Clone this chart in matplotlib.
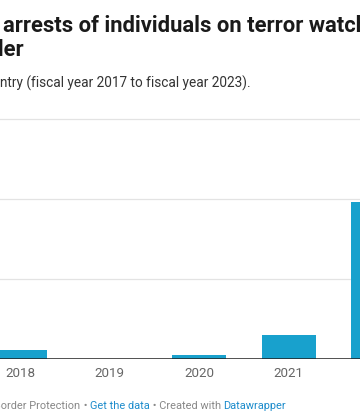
import matplotlib
matplotlib.use("Agg")
import matplotlib.pyplot as plt

# Data
years = ["2017", "2018", "2019", "2020", "2021", "2022", "2023"]
arrests = [2, 6, 0, 3, 15, 98, 169]
grid_values = [50, 100, 150]

W, H = 360, 419
DPI = 100
BAR = "#18a1cd"

plt.rcParams["font.family"] = ["Roboto", "DejaVu Sans"]

fig = plt.figure(figsize=(W / DPI, H / DPI), dpi=DPI)
fig.patch.set_facecolor("white")

def fx(x):
    return x / W

def fy(y):
    return 1 - y / H

# Axes placement (pixel geometry of the visible crop)
base_px = 359.3
px_per_unit = 1.6
ymax = 160
ax_h = ymax * px_per_unit
ax = fig.add_axes([0, (H - base_px) / H, 1, ax_h / H])

step = 89.5
center_2018 = 20.2
x0 = 1 - center_2018 / step
x1 = x0 + W / step
xs = list(range(len(years)))
ax.bar(xs, arrests, width=0.6, color=BAR, zorder=3)

for v in grid_values:
    ax.axhline(v, color="#e3e3e3", lw=0.9, zorder=1)
ax.axhline(0, color="#222222", lw=1.1, zorder=4)

for s in ax.spines.values():
    s.set_visible(False)
ax.set_yticks([])
ax.set_xticks(xs)
ax.set_xticklabels(years)
ax.tick_params(axis="x", length=0, pad=5.5, labelsize=9.6, labelcolor="#666666")
ax.set_facecolor("none")
ax.set_xlim(x0, x1)
ax.set_ylim(0, ymax)

# Title (cropped)
title_kw = dict(fontsize=15.8, fontweight="bold", color="#1a1a1a", va="baseline")
fig.text(fx(3), fy(32.3), "arrests of individuals on terror watchlist", ha="left", **title_kw)
fig.text(fx(24.5), fy(55.5), "border", ha="right", **title_kw)

# Subtitle (cropped)
fig.text(fx(0.5), fy(87.3), "ntry (fiscal year 2017 to fiscal year 2023).",
         ha="left", va="baseline", fontsize=9.8, color="#333333")

# Footer (cropped)
grey = "#888888"
blue = "#1d8ccc"
fs = 7.95
t = fig.text(fx(-5.5), fy(408.5), "Border Protection", ha="left", va="baseline",
             fontsize=fs, color=grey)
pieces = [(" \u2022 ", grey), ("Get the data", blue), (" \u2022 Created with ", grey),
          ("Datawrapper", blue)]
cur = t
for txt, col in pieces:
    cur = fig.text(0, 0, txt, fontsize=fs, color=col, va="bottom", ha="left")
    cur.remove()
    break

cur = t
for txt, col in pieces:
    cur = plt.annotate(txt, xy=(1, 0), xycoords=cur, xytext=(0, 0),
                       textcoords="offset points", va="bottom", ha="left",
                       fontsize=fs, color=col, annotation_clip=False)

fig.savefig("out.png", dpi=DPI)
